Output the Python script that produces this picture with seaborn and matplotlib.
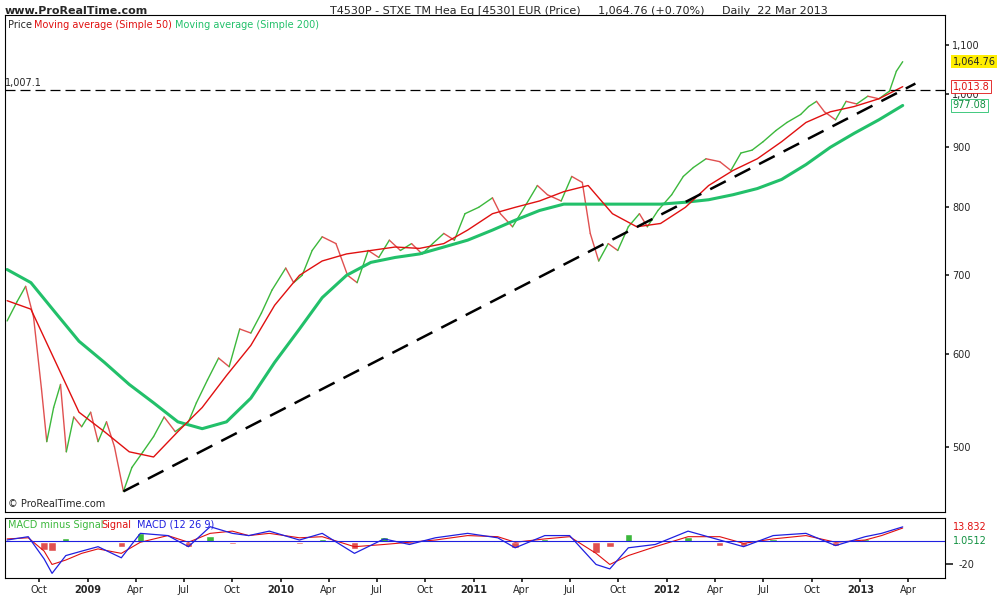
import numpy as np
import pandas as pd
import matplotlib
matplotlib.use("Agg")
import matplotlib.pyplot as plt
import matplotlib.dates as mdates
import seaborn as sns

# price (approx, roughly twice a month)
price_dates = ["2008-08-01", "2008-08-20", "2008-09-05", "2008-09-20", "2008-10-05", "2008-10-15",
               "2008-10-28", "2008-11-10", "2008-11-21", "2008-12-05", "2008-12-20", "2009-01-06",
               "2009-01-20", "2009-02-05", "2009-02-20", "2009-03-09", "2009-03-25", "2009-04-15",
               "2009-05-05", "2009-05-25", "2009-06-15", "2009-07-10", "2009-07-25", "2009-08-15",
               "2009-09-05", "2009-09-25", "2009-10-15", "2009-11-05", "2009-11-25", "2009-12-15",
               "2010-01-10", "2010-01-25", "2010-02-10", "2010-03-01", "2010-03-20", "2010-04-15",
               "2010-05-07", "2010-05-25", "2010-06-15", "2010-07-05", "2010-07-25", "2010-08-15",
               "2010-09-05", "2010-09-25", "2010-10-15", "2010-11-05", "2010-11-25", "2010-12-15",
               "2011-01-10", "2011-02-05", "2011-02-20", "2011-03-15", "2011-04-10", "2011-05-01",
               "2011-05-20", "2011-06-15", "2011-07-05", "2011-07-25", "2011-08-09", "2011-08-25",
               "2011-09-12", "2011-09-30", "2011-10-20", "2011-11-10", "2011-11-25", "2011-12-15",
               "2012-01-10", "2012-02-01", "2012-02-20", "2012-03-15", "2012-04-10", "2012-05-01",
               "2012-05-20", "2012-06-10", "2012-07-01", "2012-07-25", "2012-08-15", "2012-09-10",
               "2012-09-25", "2012-10-10", "2012-10-25", "2012-11-15", "2012-12-05", "2012-12-25",
               "2013-01-15", "2013-02-05", "2013-02-25", "2013-03-10", "2013-03-22"]
price = [640, 665, 685, 645, 560, 505, 540, 565, 495, 530, 520, 535,
         505, 525, 500, 458, 480, 495, 510, 530, 515, 525, 545, 570,
         595, 585, 630, 625, 650, 680, 710, 690, 700, 735, 755, 745,
         700, 690, 735, 725, 750, 735, 745, 730, 745, 760, 750, 790,
         800, 815, 790, 770, 805, 835, 820, 810, 850, 840, 760, 720,
         745, 735, 770, 790, 770, 795, 820, 850, 865, 880, 875, 860,
         890, 895, 910, 930, 945, 960, 975, 985, 965, 950, 985, 980,
         995, 990, 1005, 1045, 1064.76]

ma_dates = ["2008-08-01", "2008-09-15", "2008-11-01", "2008-12-15", "2009-02-01", "2009-03-20",
            "2009-05-05", "2009-06-20", "2009-08-05", "2009-09-20", "2009-11-05", "2009-12-20",
            "2010-02-05", "2010-03-20", "2010-05-05", "2010-06-20", "2010-08-05", "2010-09-20",
            "2010-11-05", "2010-12-20", "2011-02-05", "2011-03-20", "2011-05-05", "2011-06-20",
            "2011-08-05", "2011-09-20", "2011-11-05", "2011-12-20", "2012-02-05", "2012-03-20",
            "2012-05-05", "2012-06-20", "2012-08-05", "2012-09-20", "2012-11-05", "2012-12-20",
            "2013-02-05", "2013-03-22"]
ma50 = [666, 655, 590, 535, 515, 495, 490, 515, 540, 575, 610, 660,
        700, 720, 730, 735, 740, 738, 745, 765, 790, 800, 810, 825,
        835, 790, 770, 775, 800, 835, 860, 880, 910, 945, 965, 975,
        990, 1013.8]
ma200 = [708, 690, 650, 615, 590, 565, 545, 525, 518, 525, 550, 590,
         630, 670, 700, 718, 725, 730, 740, 750, 765, 780, 795, 805,
         805, 805, 805, 805, 808, 812, 820, 830, 845, 870, 900, 925,
         950, 977.08]

macd_dates = ["2008-08-01", "2008-09-10", "2008-10-10", "2008-10-25", "2008-11-20", "2008-12-20",
              "2009-01-20", "2009-03-05", "2009-04-10", "2009-06-01", "2009-07-10", "2009-08-20",
              "2009-10-01", "2009-11-01", "2009-12-10", "2010-02-05", "2010-03-20", "2010-05-20",
              "2010-07-15", "2010-09-01", "2010-10-20", "2010-12-20", "2011-02-15", "2011-03-20",
              "2011-05-15", "2011-07-01", "2011-08-20", "2011-09-15", "2011-10-20", "2011-12-10",
              "2012-02-10", "2012-04-10", "2012-05-25", "2012-07-20", "2012-09-20", "2012-11-15",
              "2013-01-10", "2013-02-10", "2013-03-22"]
macd = [2, 5, -15, -28, -12, -8, -4, -14, 8, 6, -4, 14,
        8, 6, 10, 2, 8, -10, 3, -2, 4, 8, 4, -5, 6, 6, -20, -24, -5, -2,
        10, 2, -4, 6, 8, -3, 5, 8, 13.832]
signal = [3, 4, -8, -20, -16, -10, -6, -10, 0, 6, 0, 8,
          10, 6, 8, 4, 5, -4, -2, 0, 2, 6, 5, 0, 3, 5, -10, -20, -12, -4,
          5, 5, -1, 3, 6, 0, 2, 6, 12.8]

sns.set_theme(style="white")
plt.rcParams["font.family"] = "DejaVu Sans"

fig = plt.figure(figsize=(10, 6), dpi=100)
ax = fig.add_axes([0.005, 0.147, 0.94, 0.828])
axm = fig.add_axes([0.005, 0.037, 0.94, 0.100], sharex=ax)

pdf = pd.DataFrame({"date": pd.to_datetime(price_dates), "price": price})
mdf = pd.DataFrame({"date": pd.to_datetime(ma_dates), "ma50": ma50, "ma200": ma200})
cdf = pd.DataFrame({"date": pd.to_datetime(macd_dates), "macd": macd, "signal": signal})
cdf["hist"] = cdf["macd"] - cdf["signal"]

# candles as up/down segments
d = pdf["date"].values
for i in range(1, len(pdf)):
    c = "#3cb83c" if price[i] >= price[i - 1] else "#e05050"
    ax.plot(d[i - 1:i + 1], price[i - 1:i + 1], color=c, lw=1.0)
sns.lineplot(data=mdf, x="date", y="ma200", ax=ax, color="#22c06a", lw=2.2)
sns.lineplot(data=mdf, x="date", y="ma50", ax=ax, color="#e01010", lw=1.0)

ax.set_yscale("log")
ax.set_ylim(440, 1167)
ax.set_xlim(pd.Timestamp("2008-07-28"), pd.Timestamp("2013-06-10"))
ax.axhline(1007.1, color="black", lw=0.9, ls=(0, (8, 4)))
ax.plot(pd.to_datetime(["2009-03-09", "2013-04-15"]), [458, 1020], color="black", lw=1.8, ls=(0, (7, 4)))

ax.yaxis.tick_right()
ax.set_yticks([500, 600, 700, 800, 900, 1000, 1100])
ax.set_yticklabels(["500", "600", "700", "800", "900", "1,000", "1,100"], fontsize=7)
ax.yaxis.set_minor_locator(matplotlib.ticker.NullLocator())
ax.set_xlabel("")
ax.set_ylabel("")
ax.tick_params(axis="x", labelbottom=False, bottom=False)
ax.tick_params(axis="y", right=True, length=3, pad=2)
for s in ax.spines.values():
    s.set_color("black")
    s.set_linewidth(0.8)

ax.text(0.0, 1007.1 * 1.005, "1,007.1", transform=ax.get_yaxis_transform(), fontsize=7, va="bottom")
ax.text(1.008, 1064.76, "1,064.76", transform=ax.get_yaxis_transform(), fontsize=7, va="center",
        bbox=dict(boxstyle="square,pad=0.15", fc="#ffee00", ec="none"))
ax.text(1.008, 1013.8, "1,013.8", transform=ax.get_yaxis_transform(), fontsize=7, va="center",
        color="#e01010", bbox=dict(boxstyle="square,pad=0.15", fc="white", ec="#e01010", lw=0.6))
ax.text(1.008, 977.08, "977.08", transform=ax.get_yaxis_transform(), fontsize=7, va="center",
        color="#109040", bbox=dict(boxstyle="square,pad=0.15", fc="white", ec="#22c06a", lw=0.6))
ax.text(0.003, 0.99, "Price", transform=ax.transAxes, fontsize=7, va="top")
ax.text(0.031, 0.99, "Moving average (Simple 50)", transform=ax.transAxes, fontsize=7, va="top", color="#e01010")
ax.text(0.181, 0.99, "Moving average (Simple 200)", transform=ax.transAxes, fontsize=7, va="top", color="#22c06a")
ax.text(0.003, 0.005, "© ProRealTime.com", transform=ax.transAxes, fontsize=7, va="bottom")

# MACD panel
wd = [14] * len(cdf)
axm.bar(cdf["date"], cdf["hist"].clip(lower=0), width=wd, color="#3cb83c")
axm.bar(cdf["date"], cdf["hist"].clip(upper=0), width=wd, color="#e05050")
sns.lineplot(data=cdf, x="date", y="signal", ax=axm, color="#e01010", lw=0.8)
sns.lineplot(data=cdf, x="date", y="macd", ax=axm, color="#2020e0", lw=0.9)
axm.axhline(1.0512, color="#2020e0", lw=0.8)
axm.set_ylim(-32, 22)
axm.yaxis.tick_right()
axm.set_yticks([-20])
axm.set_yticklabels(["-20"], fontsize=7)
axm.set_xlabel("")
axm.set_ylabel("")
axm.text(1.008, 13.832, "13.832", transform=axm.get_yaxis_transform(), fontsize=7, va="center", color="#e01010")
axm.text(1.008, 1.0512, "1.0512", transform=axm.get_yaxis_transform(), fontsize=7, va="center", color="#109040")
axm.text(0.003, 0.97, "MACD minus Signal", transform=axm.transAxes, fontsize=7, va="top", color="#3cb83c")
axm.text(0.103, 0.97, "Signal", transform=axm.transAxes, fontsize=7, va="top", color="#e01010")
axm.text(0.140, 0.97, "MACD (12 26 9)", transform=axm.transAxes, fontsize=7, va="top", color="#2020e0")
for s in axm.spines.values():
    s.set_color("black")
    s.set_linewidth(0.8)

# x axis
ticks = pd.date_range("2008-10-01", "2013-04-01", freq="3MS")
axm.set_xticks(ticks)
labels = [str(t.year) if t.month == 1 else t.strftime("%b") for t in ticks]
axm.set_xticklabels(labels, fontsize=7)
for lab, t in zip(axm.get_xticklabels(), ticks):
    if t.month == 1:
        lab.set_fontweight("bold")
axm.tick_params(axis="x", bottom=True, length=3, pad=2)

fig.text(0.005, 0.99, "www.ProRealTime.com", fontsize=8, fontweight="bold", va="top")
fig.text(0.33, 0.99, "T4530P - STXE TM Hea Eq [4530] EUR (Price)     1,064.76 (+0.70%)     Daily  22 Mar 2013",
         fontsize=8, va="top")

fig.savefig("out.png", dpi=100)
